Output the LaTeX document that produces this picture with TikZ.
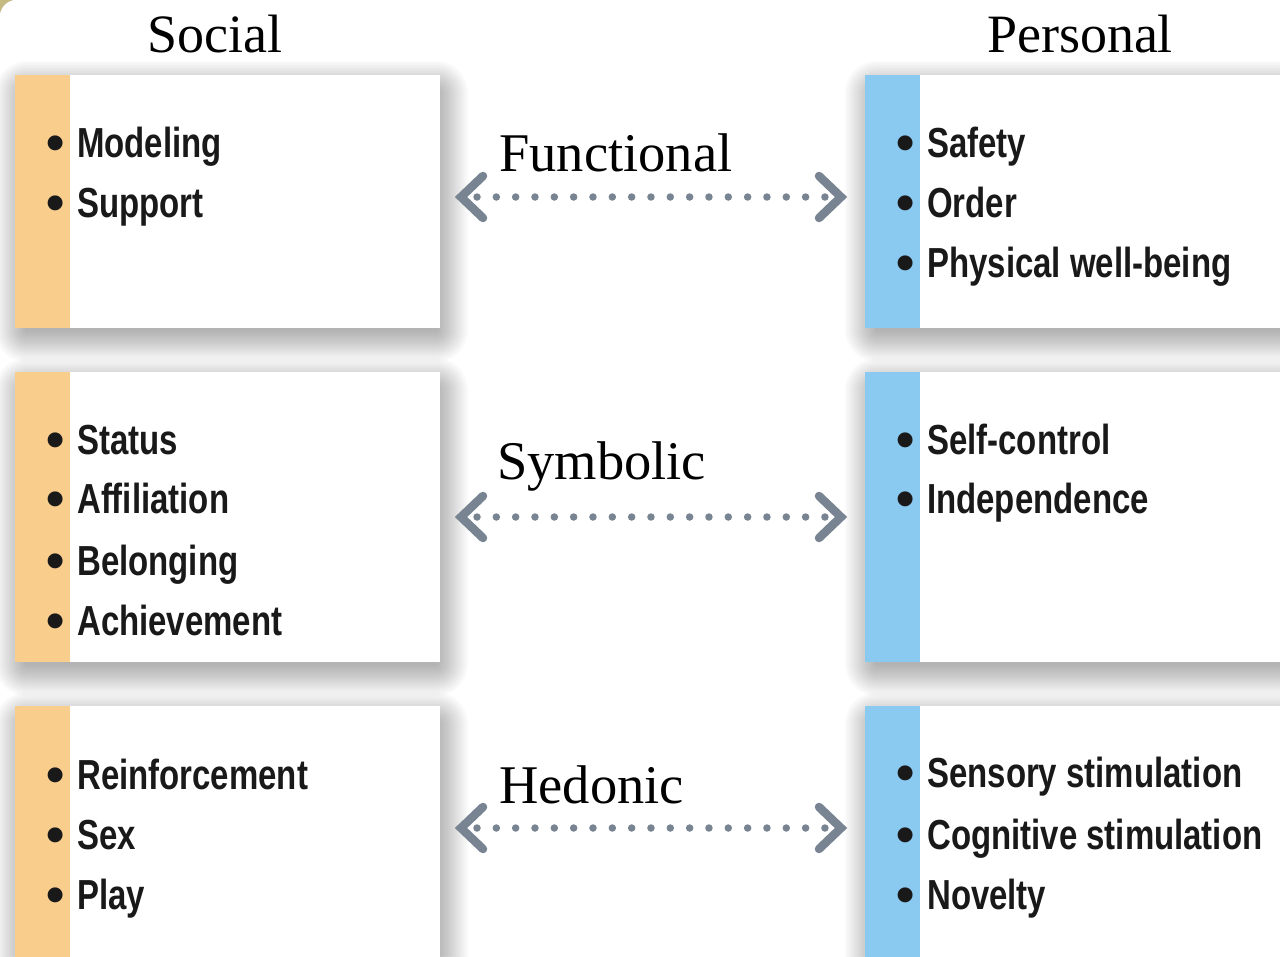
\documentclass[tikz,border=0pt]{standalone}
\usepackage{fontspec}
\setmainfont{Liberation Serif}
\newfontfamily\itemfont[FakeStretch=0.785]{Liberation Sans}
\newfontfamily\bulfont{Liberation Sans}
\definecolor{stripor}{RGB}{249,205,140}
\definecolor{stripbl}{RGB}{138,201,240}
\definecolor{arrowgray}{RGB}{120,132,146}
\definecolor{cornercol}{RGB}{196,186,130}
\newcommand\bitem[1]{\makebox[22pt][c]{\raisebox{-3pt}{\bulfont\bfseries\fontsize{52}{50}\selectfont •}}\hspace{11pt}#1}
\newcommand\myshadow[4]{%
  \foreach \k in {0,...,15}{%
    \pgfmathsetmacro\rr{2*\k-6}%
    \pgfmathsetmacro\rc{\rr+8}%
    \fill[black,opacity=0.021,rounded corners=\rc] (#1+4-\rr,#2+10-\rr) rectangle (#3+4+\rr,#4+10+\rr);
  }%
}
\tikzset{
  box/.style={fill=white, inner sep=0pt, anchor=north west},
  head/.style={font=\fontsize{54}{60}\selectfont, anchor=base, inner sep=0pt},
  mid/.style={font=\fontsize{54.5}{60}\selectfont, anchor=base west, inner sep=0pt},
  itm/.style={font=\itemfont\bfseries\fontsize{42}{50}\selectfont, anchor=base west, inner sep=0pt, text=black!90},
  dotline/.style={draw=arrowgray, line width=7.5pt, line cap=round, dash pattern=on 0pt off 19.33pt},
  chev/.style={draw=arrowgray, line width=8.5pt, line cap=round, line join=miter},
}
\begin{document}
\begin{tikzpicture}[x=1pt,y=-1pt]
\useasboundingbox (0,0) rectangle (1280,956);
\clip (0,0) rectangle (1280,956);
\fill[white] (0,0) rectangle (1280,956);
\fill[cornercol] (0,0) -- (13,0) .. controls (6,2) and (2,6) .. (0,13) -- cycle;

% shadows
\myshadow{15}{75}{440}{328}
\myshadow{15}{372}{440}{662}
\myshadow{15}{706}{440}{1000}
\myshadow{865}{75}{1300}{328}
\myshadow{865}{372}{1300}{662}
\myshadow{865}{706}{1300}{1000}

% boxes
\node[box, minimum width=425pt, minimum height=253pt] (L1) at (15,75) {};
\node[box, minimum width=425pt, minimum height=290pt] (L2) at (15,372) {};
\node[box, minimum width=425pt, minimum height=294pt] (L3) at (15,706) {};
\node[box, minimum width=435pt, minimum height=253pt] (R1) at (865,75) {};
\node[box, minimum width=435pt, minimum height=290pt] (R2) at (865,372) {};
\node[box, minimum width=435pt, minimum height=294pt] (R3) at (865,706) {};
\foreach \b in {L1,L2,L3}{\fill[stripor] (\b.north west) rectangle ([xshift=55pt]\b.south west);}
\foreach \b in {R1,R2,R3}{\fill[stripbl] (\b.north west) rectangle ([xshift=55pt]\b.south west);}

% headings
\node[head] (social) at (215,52) {Social};
\node[head] (personal) at (1080,52) {Personal};

% items
\foreach \t/\y [count=\i] in {Modeling/157, Support/217}
  \node[itm] (la\i) at (44,\y) {\bitem{\t}};
\foreach \t/\y [count=\i] in {Safety/157, Order/217, Physical well-being/277}
  \node[itm] (ra\i) at (894,\y) {\bitem{\t}};
\foreach \t/\y [count=\i] in {Status/454, Affiliation/513, Belonging/575, Achievement/635}
  \node[itm] (lb\i) at (44,\y) {\bitem{\t}};
\foreach \t/\y [count=\i] in {Self-control/454, Independence/513}
  \node[itm] (rb\i) at (894,\y) {\bitem{\t}};
\foreach \t/\y [count=\i] in {Reinforcement/789, Sex/849, Play/909}
  \node[itm] (lc\i) at (44,\y) {\bitem{\t}};
\foreach \t/\y [count=\i] in {Sensory stimulation/787, Cognitive stimulation/849, Novelty/909}
  \node[itm] (rc\i) at (894,\y) {\bitem{\t}};

% middle labels
\node[mid] (fun) at (499,171) {Functional};
\node[mid] (sym) at (497,479) {Symbolic};
\node[mid] (hed) at (499,803) {Hedonic};

% arrows
\coordinate (a1l) at (461,197); \coordinate (a1r) at (841,197);
\coordinate (a2l) at (461,517); \coordinate (a2r) at (841,517);
\coordinate (a3l) at (461,828); \coordinate (a3r) at (841,828);
\foreach \a in {1,2,3}{
  \draw[dotline] ([xshift=16pt]a\a l) -- ([xshift=-16pt]a\a r);
  \draw[chev] ([shift={(22pt,21pt)}]a\a l) -- (a\a l) -- ([shift={(22pt,-21pt)}]a\a l);
  \draw[chev] ([shift={(-22pt,21pt)}]a\a r) -- (a\a r) -- ([shift={(-22pt,-21pt)}]a\a r);
}
\end{tikzpicture}
\end{document}
